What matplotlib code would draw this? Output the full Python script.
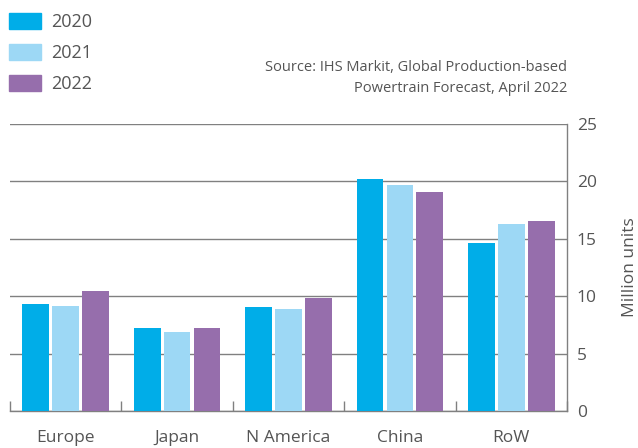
import matplotlib
matplotlib.use("Agg")
import matplotlib.pyplot as plt
import numpy as np
from matplotlib.patches import Patch

regions = ["Europe", "Japan", "N America", "China", "RoW"]
years = ["2020", "2021", "2022"]
v2020 = [9.3, 7.2, 9.05, 20.2, 14.6]
v2021 = [9.15, 6.9, 8.9, 19.7, 16.3]
v2022 = [10.45, 7.2, 9.85, 19.1, 16.55]
yticks = [0, 5, 10, 15, 20, 25]

colors = ["#00ADE8", "#9DD8F5", "#966EAC"]
txt = "#555555"
plt.rcParams['font.family'] = ['Open Sans', 'DejaVu Sans']

fig = plt.figure(figsize=(6.38, 4.48), dpi=100)
ax = fig.add_axes([10/638, 37/448, 557/638, 287/448])

x = np.arange(len(regions))
w = 0.24
step = 0.268
for i, (vals, c) in enumerate(zip([v2020, v2021, v2022], colors)):
    ax.bar(x + (i - 1) * step, vals, width=w, color=c, zorder=3)

ax.set_xlim(-0.5, len(regions) - 0.5)
ax.set_ylim(0, 25)
ax.set_yticks(yticks)
ax.yaxis.tick_right()
ax.yaxis.set_label_position("right")
ax.tick_params(axis='y', length=0, labelsize=12.5, labelcolor=txt, pad=7)
ax.set_xticks(x)
ax.set_xticklabels(regions)
ax.tick_params(axis='x', length=0, labelsize=12.5, labelcolor=txt, pad=14)
ax.set_xticks(np.arange(-0.5, len(regions), 1), minor=True)
ax.tick_params(axis='x', which='minor', direction='in', length=7, color="#808080", width=1)
ax.grid(axis='y', color="#808080", linewidth=1, zorder=0)
for s in ["top", "left"]:
    ax.spines[s].set_visible(False)
for s in ["bottom", "right"]:
    ax.spines[s].set_color("#808080")
    ax.spines[s].set_linewidth(1)
ax.set_ylabel("Million units", fontsize=12.5, color=txt, labelpad=18)

handles = [Patch(color=c) for c in colors]
fig.legend(handles, years, loc="upper left", bbox_to_anchor=(-0.005, 1.0), frameon=False,
           fontsize=13, labelcolor=txt, handlelength=1.75, handleheight=1.0,
           labelspacing=0.72, handletextpad=0.55, borderaxespad=0.3)

fig.text(567/638, 1 - 60/448, "Source: IHS Markit, Global Production-based\nPowertrain Forecast, April 2022",
         ha="right", va="top", fontsize=10.5, color=txt, linespacing=1.5)

fig.savefig("out.png", dpi=100)
